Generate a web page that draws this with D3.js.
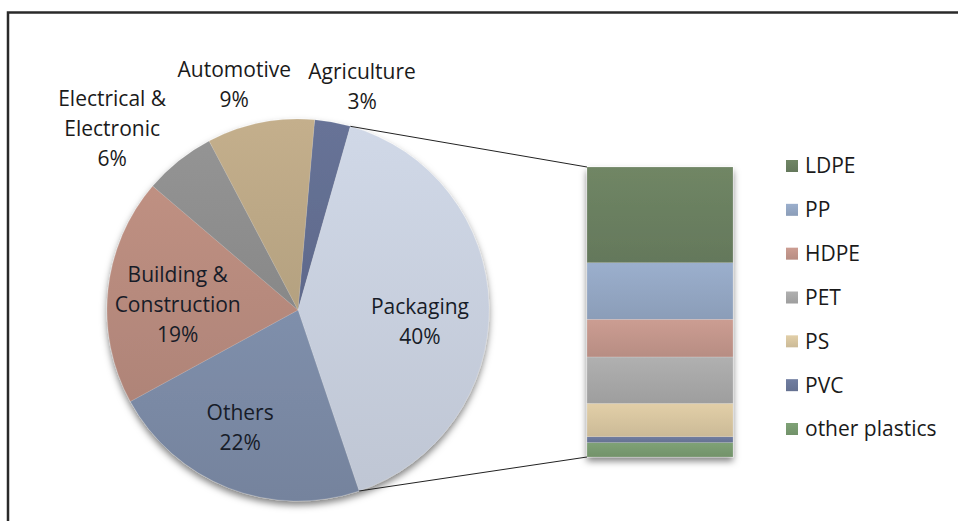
<!DOCTYPE html>
<html>
<head>
<meta charset="utf-8">
<script src="https://cdn.jsdelivr.net/npm/d3@7"></script>
<style>
body { margin: 0; background: #fff; }
svg { display: block; font-family: "Open Sans", sans-serif; }
</style>
</head>
<body>
<div id="chart"></div>
<script>
// pie sectors, clockwise from the top
var sectors = ["Agriculture", "Packaging", "Others", "Building & Construction", "Electrical & Electronic", "Automotive"];
var sectorValues = [3, 40, 22, 19, 6, 9];
var sectorColors = ["#636e91", "#c7cfdd", "#7a89a4", "#b78a7d", "#8e8e8e", "#bca886"];

// packaging split by polymer, top of the bar first
var polymers = ["LDPE", "PP", "HDPE", "PET", "PS", "PVC", "other plastics"];
var polymerValues = [33, 19.5, 13, 16, 11.5, 2, 5];
var polymerColors = ["#6a7f60", "#93a6c2", "#c1958a", "#a7a7a7", "#d6c49f", "#6b7799", "#789a70"];

var W = 958, H = 521;
var cx = 298, cy = 310, R = 191;
var startDeg = 5;
var lineH = 30;
// Excel's label placement differs a bit from the plain centroid
var labelNudge = {
    "Electrical & Electronic": [-41, 0],
    "Agriculture": [22, 5],
    "Automotive": [-18, 2],
    "Packaging": [-4, 15],
    "Others": [-12, 0],
    "Building & Construction": [5, 8]
};

var svg = d3.select("#chart").append("svg")
    .attr("width", W)
    .attr("height", H);

var defs = svg.append("defs");
var shadow = defs.append("filter").attr("id", "shadow")
    .attr("x", "-20%").attr("y", "-20%").attr("width", "140%").attr("height", "140%");
shadow.append("feDropShadow")
    .attr("dx", 0).attr("dy", 4).attr("stdDeviation", 3.5)
    .attr("flood-color", "#000").attr("flood-opacity", 0.5);

function addGradient(id, col, k) {
    let g = defs.append("linearGradient").attr("id", id)
        .attr("x1", 0).attr("y1", 0).attr("x2", 0).attr("y2", 1);
    g.append("stop").attr("offset", "0%").attr("stop-color", d3.color(col).brighter(k));
    g.append("stop").attr("offset", "100%").attr("stop-color", d3.color(col).darker(k));
}
sectorColors.forEach(function(c, i) { addGradient("sg" + i, c, 0.12); });
polymerColors.forEach(function(c, i) { addGradient("pg" + i, c, 0.15); });

// frame of the original slide
svg.append("path")
    .attr("d", "M8," + H + "V12.5H" + W)
    .attr("fill", "none")
    .attr("stroke", "#2a2a2a")
    .attr("stroke-width", 2.5);

// pie
var rad = Math.PI / 180;
var pie = d3.pie().sort(null).value(function(d) { return d; })
    .startAngle(startDeg * rad).endAngle(startDeg * rad + 2 * Math.PI);
var arcs = pie(sectorValues);
var arc = d3.arc().innerRadius(0).outerRadius(R);
var inLabel = d3.arc().innerRadius(126).outerRadius(126);
var outLabel = d3.arc().innerRadius(232).outerRadius(232);

var gPie = svg.append("g").attr("transform", "translate(" + cx + "," + cy + ")");
var gSlices = gPie.append("g").attr("filter", "url(#shadow)");
gSlices.selectAll("path")
    .data(arcs)
    .enter().append("path")
    .attr("d", arc)
    .attr("fill", function(d, i) { return "url(#sg" + i + ")"; })
    .attr("stroke", "rgba(255,255,255,0.25)")
    .attr("stroke-width", 0.5);

arcs.forEach(function(d, i) {
    let name = sectors[i];
    let lines = name.indexOf(" & ") >= 0 ? [name.split(" & ")[0] + " &", name.split(" & ")[1]] : [name];
    lines.push(sectorValues[i] + "%");
    let inside = sectorValues[i] >= 15;
    let p = inside ? inLabel.centroid(d) : outLabel.centroid(d);
    let n = labelNudge[name] || [0, 0];
    let t = gPie.append("text")
        .attr("text-anchor", "middle")
        .attr("font-size", "21px")
        .attr("fill", inside ? "#171c28" : "#1a1a1a");
    lines.forEach(function(l, j) {
        t.append("tspan")
            .attr("x", p[0] + n[0])
            .attr("y", p[1] + n[1] + (j - (lines.length - 1) / 2) * lineH)
            .attr("dy", "0.35em")
            .text(l);
    });
});

// stacked bar for packaging
var barX0 = 587, barX1 = 733, barTop = 167, barBottom = 457;
var y = d3.scaleLinear()
    .domain([0, d3.sum(polymerValues)])
    .range([barBottom, barTop]);
var row = {};
polymers.forEach(function(p, i) { row[p] = polymerValues[i]; });
var stacked = d3.stack().keys(polymers.slice().reverse())([row]);

var gBar = svg.append("g").attr("filter", "url(#shadow)");
gBar.selectAll("rect")
    .data(stacked)
    .enter().append("rect")
    .attr("x", barX0)
    .attr("width", barX1 - barX0)
    .attr("y", function(s) { return y(s[0][1]); })
    .attr("height", function(s) { return y(s[0][0]) - y(s[0][1]); })
    .attr("fill", function(s) { return "url(#pg" + polymers.indexOf(s.key) + ")"; })
    .attr("stroke", "rgba(255,255,255,0.35)")
    .attr("stroke-width", 0.5);

// connector lines from the packaging slice to the bar
var pk = arcs[1];
function edgePoint(a) { return [cx + R * Math.sin(a), cy - R * Math.cos(a)]; }
var pTop = edgePoint(pk.startAngle), pBot = edgePoint(pk.endAngle);
svg.append("line")
    .attr("x1", pTop[0]).attr("y1", pTop[1])
    .attr("x2", barX0).attr("y2", y.range()[1])
    .attr("stroke", "#222").attr("stroke-width", 1);
svg.append("line")
    .attr("x1", pBot[0]).attr("y1", pBot[1])
    .attr("x2", barX0).attr("y2", y.range()[0])
    .attr("stroke", "#222").attr("stroke-width", 1);

// legend
var ly = d3.scalePoint().domain(polymers).range([166, 429]);
var legend = svg.append("g").selectAll("g")
    .data(polymers)
    .enter().append("g")
    .attr("transform", function(d) { return "translate(786," + ly(d) + ")"; });
legend.append("rect")
    .attr("x", 0).attr("y", -6)
    .attr("width", 12).attr("height", 12)
    .attr("fill", function(d, i) { return "url(#pg" + i + ")"; });
legend.append("text")
    .attr("x", 19)
    .attr("dy", "0.35em")
    .attr("font-size", "21px")
    .attr("fill", "#1a1a1a")
    .text(function(d) { return d; });
</script>
</body>
</html>
